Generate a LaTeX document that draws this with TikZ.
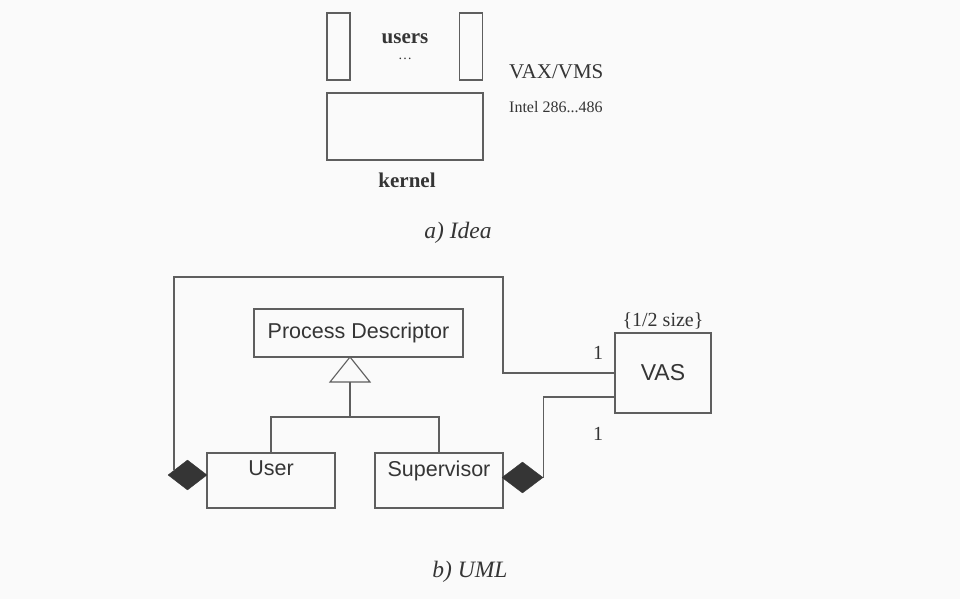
\documentclass[tikz,border=0pt]{standalone}
\usepackage{fontspec}
\setmainfont{Liberation Serif}
\setsansfont{Liberation Sans}
\usepackage{tikz}
\usetikzlibrary{shapes.geometric,positioning}

\definecolor{bgcol}{HTML}{FAFAFA}
\definecolor{linecol}{HTML}{5E5E5E}
\definecolor{inkcol}{HTML}{353535}

\begin{document}
\begin{tikzpicture}[x=1pt,y=-1pt,
    box/.style={draw=linecol, line width=1.1pt, inner sep=0pt},
    wire/.style={draw=linecol, line width=1.1pt},
    agg/.style={diamond, fill=inkcol, draw=inkcol, inner sep=0pt},
    bold/.style={font=\fontsize{21}{24}\selectfont\bfseries, text=inkcol, inner sep=1pt},
    serif/.style={font=\fontsize{20}{23}\selectfont, text=inkcol},
    caption/.style={font=\fontsize{23.5}{27}\selectfont\itshape, text=inkcol},
    uml/.style={font=\sffamily\fontsize{21.5}{25}\selectfont, text=inkcol}]
  \fill[bgcol] (0,0) rectangle (960,599);
  \useasboundingbox (0,0) rectangle (960,599);

  % a) idea
  \node[box, minimum width=23pt, minimum height=67pt] (usrL) at (338.5,46.5) {};
  \node[box, minimum width=23pt, minimum height=67pt] (usrR) at (471,46.5) {};
  \node[box, minimum width=156pt, minimum height=67pt] (kern) at (405,126.5) {};
  \node[bold] (users) at (405,39) {users};
  \node[text=inkcol, font=\fontsize{14}{16}\selectfont, inner sep=0pt] (dots) at (405,59) {\ldots};
  \node[bold] (kernel) at (407,180) {kernel};
  \node[font=\fontsize{21}{24}\selectfont, text=inkcol, anchor=west, inner sep=0pt] (vax) at (509,72) {VAX/VMS};
  \node[font=\fontsize{16}{19}\selectfont, text=inkcol, anchor=west, inner sep=0pt] (intel) at (509,107) {Intel 286...486};
  \node[caption] (capA) at (458,233) {a) Idea};

  % b) UML
  \node[box, uml, minimum width=209pt, minimum height=48pt] (pd) at (358.5,333) {Process Descriptor};
  \node[box, minimum width=128pt, minimum height=55pt] (user) at (271,480.5) {};
  \node[box, minimum width=128pt, minimum height=55pt] (sup) at (439,480.5) {};
  \node[uml, below=5pt of user.north] (userT) {User};
  \node[uml, below=5pt of sup.north] (supT) {Supervisor};
  \node[box, font=\sffamily\fontsize{23}{27}\selectfont, text=inkcol, minimum width=96pt, minimum height=80pt] (vas) at (663,373) {VAS};
  \node[serif, above=0pt of vas] (half) {\{1/2 size\}};
  \node[serif] (mulA) at (598,353) {1};
  \node[serif] (mulB) at (598,434) {1};
  \node[agg, minimum width=39pt, minimum height=30pt] (dU) at (187.5,475) {};
  \node[agg, minimum width=41pt, minimum height=31pt] (dS) at (522.5,477.5) {};

  \coordinate (gtip) at (350,357);
  \coordinate (gbase) at (350,382);
  \coordinate (gjoin) at (350,417);
  \coordinate (uEnd) at (174,470);

  \draw[wire] (gtip) -- ++(20,25) -- ++(-40,0) -- cycle;
  \draw[wire] (gbase) -- (gjoin);
  \draw[wire] (user.north) |- (gjoin) -| (sup.north);
  \draw[wire] (vas.west) -| (503,277) -| (uEnd);
  \draw[wire] ([yshift=-24pt]vas.west) -| (dS.east);

  \node[caption] (capB) at (470,572) {b) UML};
\end{tikzpicture}
\end{document}
